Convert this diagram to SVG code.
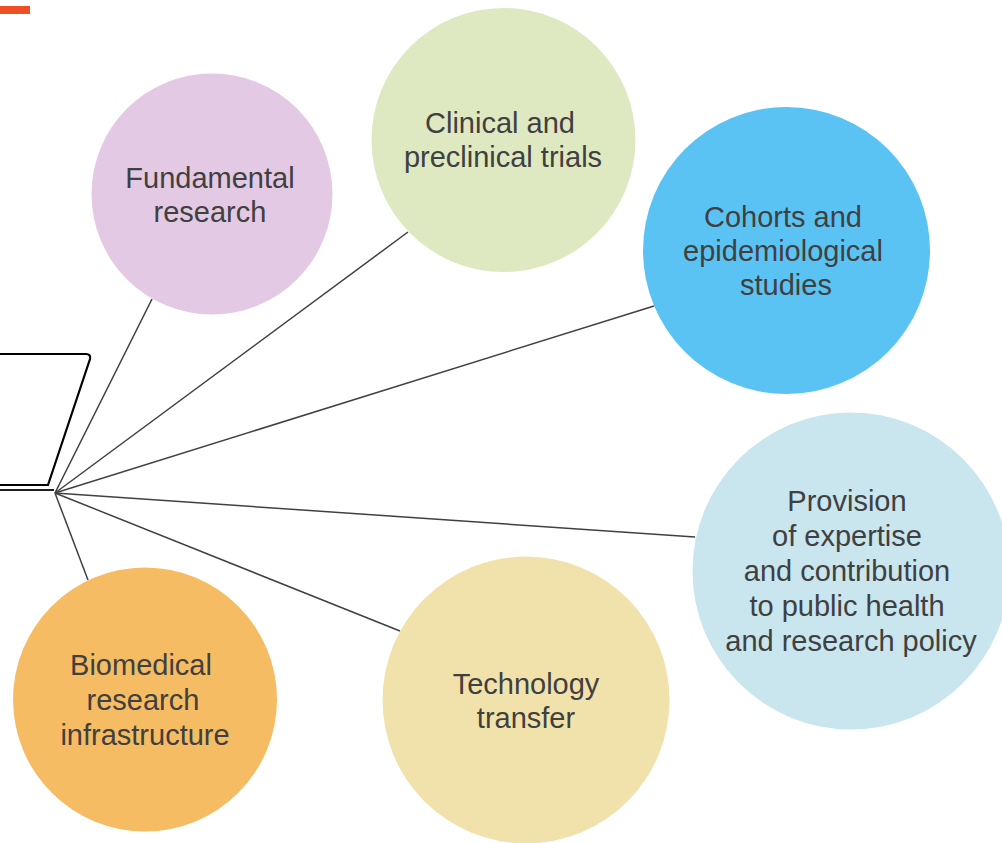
<svg xmlns="http://www.w3.org/2000/svg" width="1002" height="843" viewBox="0 0 1002 843">
<style>
.lbl{font-family:"Liberation Sans",Arial,sans-serif;font-size:29px;fill:#404040;text-anchor:middle}
.con{stroke:#404040;stroke-width:1.5;fill:none}
</style>
<rect x="0" y="0" width="1002" height="843" fill="#ffffff"/>
<rect x="0" y="6" width="30" height="8" fill="#f04e23"/>
<g id="frame">
<path d="M0,354 L86,354 Q91,354 90,359 L48,485 L0,485" fill="none" stroke="#000000" stroke-width="2.2"/>
<path d="M0,490 L54,490" fill="none" stroke="#202020" stroke-width="1.8"/>
</g>
<g id="connectors">
<line class="con" x1="55" y1="493" x2="152" y2="299"/>
<line class="con" x1="55" y1="493" x2="408" y2="232"/>
<line class="con" x1="55" y1="493" x2="654" y2="306"/>
<line class="con" x1="55" y1="493" x2="695" y2="537"/>
<line class="con" x1="55" y1="493" x2="400" y2="631"/>
<line class="con" x1="55" y1="493" x2="88" y2="580"/>
</g>
<g id="fundamental">
<circle cx="212" cy="194" r="120.5" fill="#e3c9e3"/>
<text class="lbl" x="210" y="188">Fundamental</text>
<text class="lbl" x="210" y="222">research</text>
</g>
<g id="clinical">
<circle cx="503.5" cy="140" r="132" fill="#dee8c1"/>
<text class="lbl" x="500" y="133">Clinical and</text>
<text class="lbl" x="503" y="167">preclinical trials</text>
</g>
<g id="cohorts">
<circle cx="786.5" cy="250.5" r="143.5" fill="#5bc3f3"/>
<text class="lbl" x="783" y="227">Cohorts and</text>
<text class="lbl" x="783" y="261">epidemiological</text>
<text class="lbl" x="786" y="295">studies</text>
</g>
<g id="provision">
<circle cx="851" cy="571" r="158.5" fill="#c9e5ee"/>
<text class="lbl" x="847" y="511">Provision</text>
<text class="lbl" x="847" y="546">of expertise</text>
<text class="lbl" x="847" y="581">and contribution</text>
<text class="lbl" x="847" y="616">to public health</text>
<text class="lbl" x="851" y="651">and research policy</text>
</g>
<g id="technology">
<circle cx="526" cy="700" r="143.5" fill="#f1e2ab"/>
<text class="lbl" x="526" y="694">Technology</text>
<text class="lbl" x="526" y="728">transfer</text>
</g>
<g id="biomedical">
<circle cx="145" cy="699.5" r="132" fill="#f6bc63"/>
<text class="lbl" x="141" y="675">Biomedical</text>
<text class="lbl" x="143" y="710">research</text>
<text class="lbl" x="145" y="745">infrastructure</text>
</g>
</svg>
